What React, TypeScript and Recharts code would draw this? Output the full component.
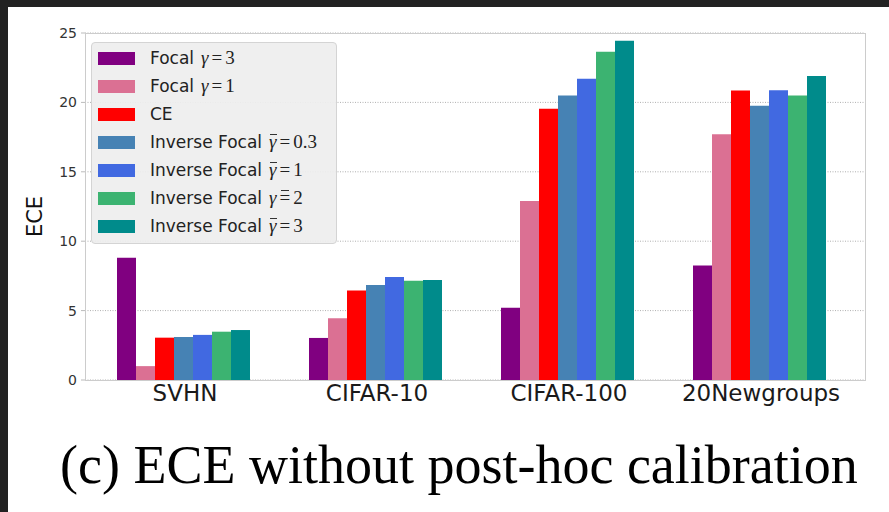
import { BarChart, Bar, XAxis, YAxis, CartesianGrid } from "recharts";

const datasets = ["SVHN", "CIFAR-10", "CIFAR-100", "20Newgroups"];
const focal3 = [8.8, 3.03, 5.2, 8.25];
const focal1 = [1.0, 4.45, 12.9, 17.7];
const ce = [3.05, 6.45, 19.55, 20.85];
const invFocal03 = [3.1, 6.85, 20.5, 19.75];
const invFocal1 = [3.25, 7.42, 21.7, 20.87];
const invFocal2 = [3.48, 7.15, 23.65, 20.5];
const invFocal3 = [3.6, 7.2, 24.45, 21.9];
const yTicks = [0, 5, 10, 15, 20, 25];

// bar: "g" = bar over gamma, "eq" = bar over the equals sign (as in the original)
const series = [
  { key: "focal3", values: focal3, color: "#800080", name: "Focal", math: true, bar: "", val: "3" },
  { key: "focal1", values: focal1, color: "#db7093", name: "Focal", math: true, bar: "", val: "1" },
  { key: "ce", values: ce, color: "#ff0000", name: "CE", math: false, bar: "", val: "" },
  { key: "inv03", values: invFocal03, color: "#4682b4", name: "Inverse Focal", math: true, bar: "g", val: "0.3" },
  { key: "inv1", values: invFocal1, color: "#4169e1", name: "Inverse Focal", math: true, bar: "g", val: "1" },
  { key: "inv2", values: invFocal2, color: "#3cb371", name: "Inverse Focal", math: true, bar: "eq", val: "2" },
  { key: "inv3", values: invFocal3, color: "#008b8b", name: "Inverse Focal", math: true, bar: "g", val: "3" },
];

const data = datasets.map((d, i) => {
  const row: Record<string, string | number> = { name: d };
  series.forEach((s) => (row[s.key] = s.values[i]));
  return row;
});

const sans = "'DejaVu Sans', Verdana, sans-serif";
const serif = "'Liberation Serif', 'Times New Roman', serif";

function Barred({ children, on, w }: { children: any; on: boolean; w: number }) {
  return (
    <span style={{ position: "relative", display: "inline-block" }}>
      {children}
      {on && (
        <span
          style={{
            position: "absolute",
            left: 1,
            top: 3,
            width: w,
            height: 1,
            background: "#333",
          }}
        />
      )}
    </span>
  );
}

export default function App() {
  return (
    <div
      style={{
        position: "absolute",
        left: 0,
        top: 0,
        width: 889,
        height: 512,
        background: "#ffffff",
        overflow: "hidden",
      }}
    >
      {/* dark screenshot edges */}
      <div style={{ position: "absolute", left: 0, top: 0, width: 889, height: 7, background: "#222" }} />
      <div style={{ position: "absolute", left: 0, top: 0, width: 8, height: 512, background: "#222" }} />

      <div style={{ position: "absolute", left: 0, top: 0 }}>
        <BarChart
          width={889}
          height={512}
          data={data}
          margin={{ top: 33, right: 24, bottom: 102, left: 0 }}
          barCategoryGap={28}
          barGap={0}
        >
          <CartesianGrid
            vertical={false}
            stroke="#b0b0b0"
            strokeDasharray="1 1.5"
          />
          <XAxis
            dataKey="name"
            height={30}
            axisLine={false}
            tickLine={false}
            tickSize={0}
            tickMargin={5}
            padding={{ left: 4, right: 8 }}
            tick={{ fontFamily: sans, fontSize: 23, fill: "#1a1a1a" }}
          />
          <YAxis
            width={85}
            domain={[0, 25]}
            ticks={yTicks}
            axisLine={false}
            tickLine={{ stroke: "#bbb" }}
            tickSize={4}
            tickMargin={4}
            tick={{ fontFamily: sans, fontSize: 14, fill: "#333" }}
            label={{
              value: "ECE",
              angle: -90,
              position: "center",
              dx: -8,
              dy: 10,
              style: { fontFamily: sans, fontSize: 21, fill: "#111" },
            }}
          />
          {series.map((s) => (
            <Bar key={s.key} dataKey={s.key} fill={s.color} isAnimationActive={false} />
          ))}
        </BarChart>
      </div>

      {/* plot frame */}
      <div
        style={{
          position: "absolute",
          left: 85,
          top: 33,
          width: 779,
          height: 346,
          border: "1px solid #cccccc",
          pointerEvents: "none",
        }}
      />

      {/* legend */}
      <div
        style={{
          position: "absolute",
          left: 91,
          top: 42,
          width: 244,
          height: 200,
          background: "rgba(238,238,238,0.92)",
          border: "1px solid #d4d4d4",
          borderRadius: 4,
        }}
      >
        {series.map((s, i) => (
          <div
            key={s.key}
            style={{
              position: "absolute",
              left: 6,
              top: 8 + i * 28,
              height: 14,
              display: "flex",
              alignItems: "center",
              whiteSpace: "nowrap",
            }}
          >
            <div style={{ width: 37, height: 13, background: s.color }} />
            <span
              style={{
                marginLeft: 15,
                fontFamily: sans,
                fontSize: 17,
                color: "#222",
              }}
            >
              {s.name}
              {s.math && (
                <span style={{ fontFamily: serif, fontSize: 19, marginLeft: 7, color: "#222" }}>
                  <Barred on={s.bar === "g"} w={7}>
                    <i>γ</i>
                  </Barred>
                  <span style={{ margin: "0 3px" }}>
                    <Barred on={s.bar === "eq"} w={8}>
                      =
                    </Barred>
                  </span>
                  {s.val}
                </span>
              )}
            </span>
          </div>
        ))}
      </div>

      {/* caption */}
      <div
        style={{
          position: "absolute",
          left: 60,
          top: 438,
          fontFamily: serif,
          fontSize: 54,
          lineHeight: 1,
          color: "#000",
          whiteSpace: "nowrap",
        }}
      >
        (c) ECE without post-hoc calibration
      </div>
    </div>
  );
}
